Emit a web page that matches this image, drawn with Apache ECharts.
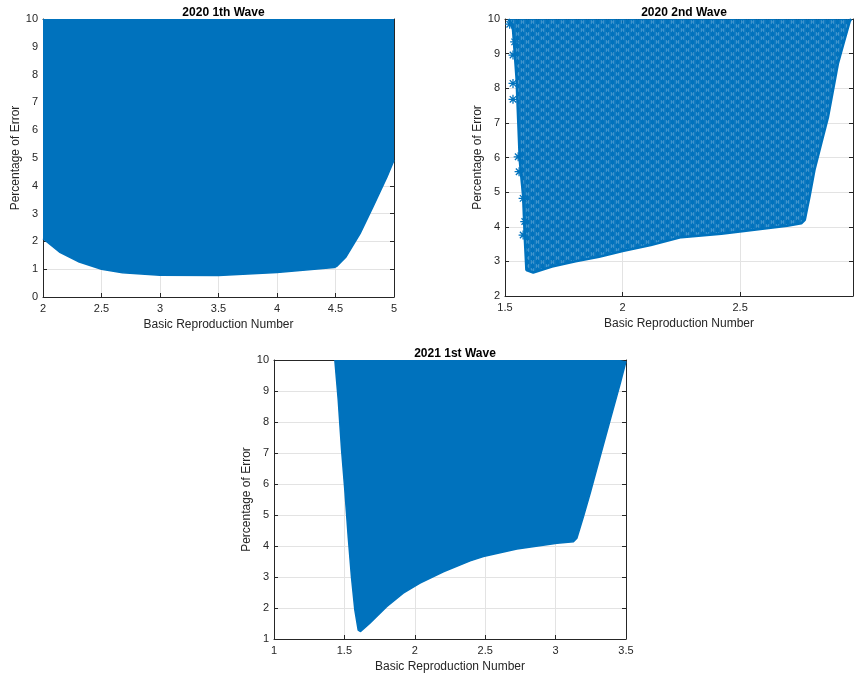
<!DOCTYPE html>
<html>
<head>
<meta charset="utf-8">
<script src="https://cdn.jsdelivr.net/npm/echarts@6/dist/echarts.min.js"></script>
<style>
html,body{margin:0;padding:0;background:#fff;}
#chart{width:854px;height:679px;}
</style>
</head>
<body>
<div id="chart"></div>
<script>
// ---- Data (lower envelope of each scatter cloud) ----
const titles = ['2020 1th Wave', '2020 2nd Wave', '2021 1st Wave'];
const xName = 'Basic Reproduction Number';
const yName = 'Percentage of Error';

// Panel 1: 2020 1th Wave
const w1X = [2.0, 2.14, 2.31, 2.5, 2.68, 3.0, 3.5, 4.0, 4.49, 4.51, 4.59, 4.71, 4.82, 4.94, 5.0];
const w1Y = [2.1, 1.62, 1.26, 1.0, 0.87, 0.78, 0.77, 0.88, 1.06, 1.1, 1.44, 2.28, 3.24, 4.32, 4.92];

// Panel 2: 2020 2nd Wave
const w2X = [1.515, 1.534, 1.549, 1.556, 1.563, 1.577, 1.584, 1.591, 1.62, 1.7, 1.8, 1.9, 2.0, 2.12, 2.25, 2.42, 2.56, 2.7, 2.76, 2.775, 2.795, 2.816, 2.845, 2.874, 2.895, 2.916, 2.944, 2.966, 2.972];
const w2Y = [10.0, 9.7, 8.3, 7.1, 5.9, 4.9, 3.7, 2.75, 2.68, 2.85, 3.0, 3.13, 3.3, 3.47, 3.7, 3.8, 3.91, 4.03, 4.1, 4.2, 4.87, 5.64, 6.41, 7.18, 7.95, 8.72, 9.4, 9.93, 10.0];
// isolated asterisks on the left fringe of panel 2
const w2OutX = [1.52, 1.541, 1.534, 1.534, 1.534, 1.556, 1.56, 1.577, 1.584, 1.577];
const w2OutY = [9.85, 9.34, 8.96, 8.14, 7.68, 6.02, 5.59, 4.82, 4.15, 3.76];

// Panel 3: 2021 1st Wave
const w3X = [1.432, 1.456, 1.48, 1.503, 1.527, 1.55, 1.574, 1.598, 1.615, 1.681, 1.8, 1.918, 2.037, 2.203, 2.393, 2.487, 2.725, 3.01, 3.127, 3.151, 3.198, 3.246, 3.317, 3.388, 3.46, 3.5];
const w3Y = [10.0, 8.72, 7.1, 5.81, 4.3, 3.01, 1.94, 1.29, 1.24, 1.51, 2.04, 2.48, 2.8, 3.17, 3.52, 3.66, 3.9, 4.09, 4.14, 4.25, 4.95, 5.71, 6.89, 8.07, 9.26, 9.96];

// axis ranges (tick labels)
const xMin = [2, 1.5, 1], xMax = [5, 2.98, 3.5];
const yMin = [0, 2, 1], yMax = [10, 10, 10];

// ---- styling ----
const BLUE = '#0072BD';
const AX = '#262626';
const FONT = '"Liberation Sans", Arial, Helvetica, sans-serif';
const grids = [
  {left: 43, top: 19, width: 351, height: 278},
  {left: 505, top: 19, width: 348, height: 277},
  {left: 274, top: 360, width: 352, height: 279}
];

function zip(xs, ys){ return xs.map((x, i) => [x, ys[i]]); }

function asteriskPattern(){
  const c = document.createElement('canvas');
  c.width = 10; c.height = 8;
  const g = c.getContext('2d');
  g.fillStyle = 'rgba(0,114,189,0.72)';
  g.fillRect(0, 0, 10, 8);
  g.strokeStyle = BLUE;
  g.lineWidth = 1.3;
  function star(cx, cy, r){
    g.beginPath();
    g.moveTo(cx - r, cy); g.lineTo(cx + r, cy);
    g.moveTo(cx, cy - r); g.lineTo(cx, cy + r);
    g.moveTo(cx - r*0.7, cy - r*0.7); g.lineTo(cx + r*0.7, cy + r*0.7);
    g.moveTo(cx + r*0.7, cy - r*0.7); g.lineTo(cx - r*0.7, cy + r*0.7);
    g.stroke();
  }
  [[2.5,2],[7.5,6],[-2.5,6],[12.5,2],[2.5,10],[7.5,-2]].forEach(p => star(p[0], p[1], 3.5));
  return c;
}
const STAR_PATH = 'path://M0,4.3L10,4.3L10,5.7L0,5.7Z M4.3,0L5.7,0L5.7,10L4.3,10Z M0.9,1.9L1.9,0.9L9.1,8.1L8.1,9.1Z M8.1,0.9L9.1,1.9L1.9,9.1L0.9,8.1Z';

const chart = echarts.init(document.getElementById('chart'), null, {renderer: 'canvas'});

const xAxis = [], yAxis = [], series = [], title = [];
grids.forEach((gr, i) => {
  const labelStyle = {color: AX, fontSize: 11, fontFamily: FONT};
  xAxis.push({
    type: 'value', gridIndex: i, min: xMin[i], max: xMax[i], interval: 0.5,
    position: 'bottom',
    name: xName, nameLocation: 'middle', nameGap: 22,
    nameTextStyle: {color: AX, fontSize: 12, fontFamily: FONT},
    axisLine: {show: true, onZero: false, lineStyle: {color: AX, width: 1}},
    axisTick: {show: true, inside: true, length: 4, lineStyle: {color: AX}},
    axisLabel: Object.assign({margin: 6, showMaxLabel: i !== 1}, labelStyle),
    splitLine: {show: true, lineStyle: {color: '#e3e3e3', width: 1}}
  });
  xAxis.push({
    type: 'value', gridIndex: i, min: xMin[i], max: xMax[i], interval: 0.5,
    position: 'top',
    axisLine: {show: true, onZero: false, lineStyle: {color: AX, width: 1}},
    axisTick: {show: true, inside: true, length: 4, lineStyle: {color: AX}},
    axisLabel: {show: false}, splitLine: {show: false}
  });
  yAxis.push({
    type: 'value', gridIndex: i, min: yMin[i], max: yMax[i], interval: 1,
    position: 'left',
    name: yName, nameLocation: 'middle', nameGap: 20,
    nameTextStyle: {color: AX, fontSize: 12, fontFamily: FONT},
    axisLine: {show: true, onZero: false, lineStyle: {color: AX, width: 1}},
    axisTick: {show: true, inside: true, length: 4, lineStyle: {color: AX}},
    axisLabel: Object.assign({margin: 5}, labelStyle),
    splitLine: {show: true, lineStyle: {color: '#e3e3e3', width: 1}}
  });
  yAxis.push({
    type: 'value', gridIndex: i, min: yMin[i], max: yMax[i], interval: 1,
    position: 'right',
    axisLine: {show: true, onZero: false, lineStyle: {color: AX, width: 1}},
    axisTick: {show: true, inside: true, length: 4, lineStyle: {color: AX}},
    axisLabel: {show: false}, splitLine: {show: false}
  });
  title.push({
    text: titles[i], left: gr.left + gr.width / 2, textAlign: 'center',
    top: i === 2 ? gr.top - 17 : 2,
    textStyle: {fontSize: 12, fontWeight: 'bold', color: '#000', fontFamily: FONT}
  });
});

const edges = [zip(w1X, w1Y), zip(w2X, w2Y), zip(w3X, w3Y)];
const pattern = {image: asteriskPattern(), repeat: 'repeat'};
edges.forEach((d, i) => {
  series.push({
    type: 'line', xAxisIndex: i * 2, yAxisIndex: i * 2, data: d,
    showSymbol: false, symbol: 'none', smooth: false, silent: true,
    lineStyle: {color: BLUE, width: i === 1 ? 2.5 : 1.5},
    areaStyle: {origin: 'end', color: i === 1 ? pattern : BLUE, opacity: 1},
    z: 3
  });
});
series.push({
  type: 'scatter', xAxisIndex: 2, yAxisIndex: 2, data: zip(w2OutX, w2OutY),
  symbol: STAR_PATH, symbolSize: 9, itemStyle: {color: BLUE, opacity: 1}, silent: true, z: 4
});

chart.setOption({
  animation: false,
  backgroundColor: '#fff',
  title: title,
  grid: grids.map(g => Object.assign({containLabel: false}, g)),
  xAxis: xAxis,
  yAxis: yAxis,
  series: series
});
</script>
</body>
</html>
